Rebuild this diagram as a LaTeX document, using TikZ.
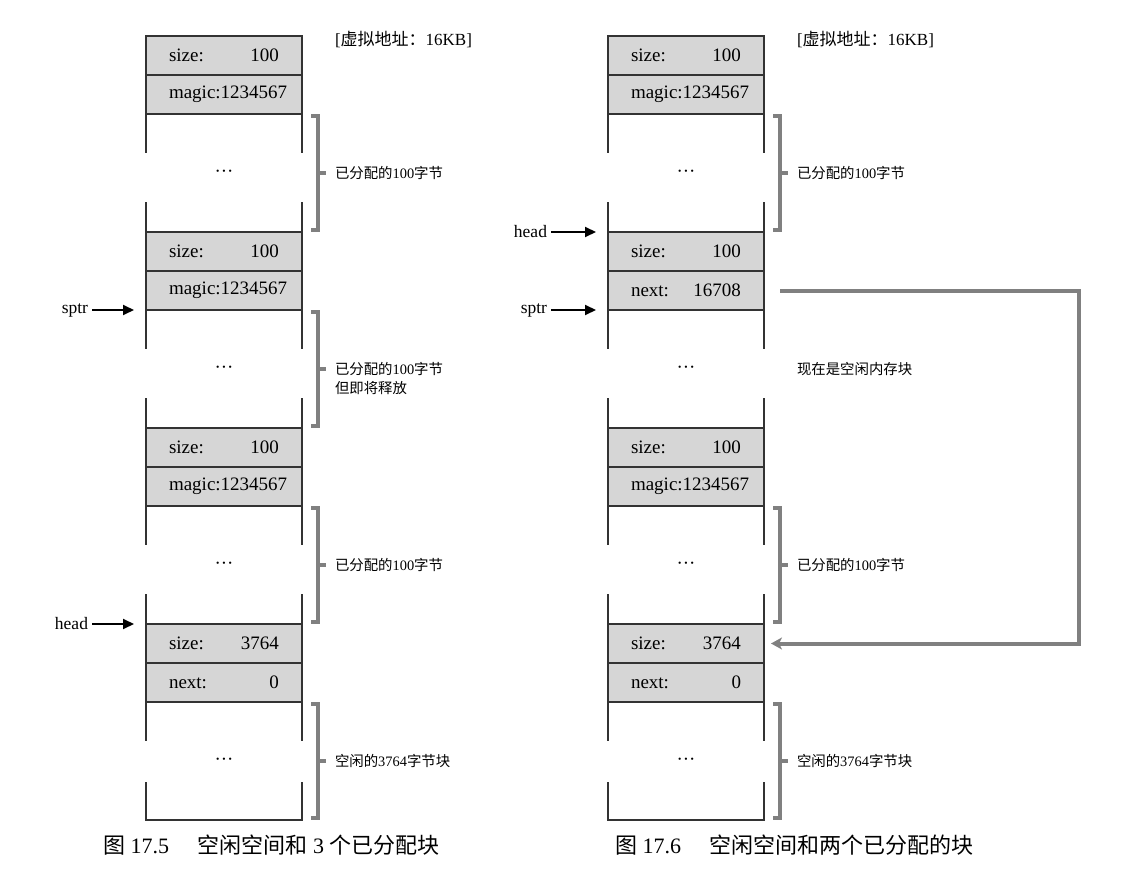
\documentclass[tikz,border=0pt]{standalone}
\usepackage{fontspec}
\setmainfont{Liberation Serif}
\newfontfamily\cjk{Noto Sans CJK SC}
\usetikzlibrary{arrows.meta,positioning}

\begin{document}
\begin{tikzpicture}[
  x=0.5pt, y=-0.5pt,
  outer sep=0pt,
  field/.style={draw=black!80, line width=0.6pt, fill=black!16, minimum width=78pt, minimum height=19.5pt,
    inner sep=0pt, text width=55pt, align=center, font=\fontsize{9.5}{11}\selectfont},
  hollow/.style={minimum width=78pt, minimum height=59pt, inner sep=0pt, font=\fontsize{9.5}{11}\selectfont},
  wall/.style={draw=black!80, line width=0.6pt},
  brk/.style={draw=black!50, line width=2.2pt},
  note/.style={inner sep=0pt, align=left, font=\fontsize{7.2}{9.5}\selectfont\cjk},
  hdr/.style={inner sep=0pt, font=\fontsize{8.5}{10}\selectfont},
  figcap/.style={inner sep=0pt, font=\fontsize{11}{13}\selectfont},
  ptr/.style={inner sep=0pt, font=\fontsize{8.75}{10}\selectfont},
  ptrarrow/.style={line width=1pt, shorten <=2pt, shorten >=6pt, -{Triangle[length=5.5pt,width=5pt]}},
  link/.style={draw=black!50, line width=2pt, -{Stealth[length=5.5pt,width=6pt,inset=1.5pt]}},
  node distance=0pt,
]
\useasboundingbox (0,0) rectangle (1142,883);
\newcommand\gapdots{\smash{\raisebox{-2pt}{···}}}

% left: free space and three allocated chunks
\node[field] (Ls1) at (224,55.5) {size:\hfill 100};
\node[field, below=of Ls1] (Lm1) {magic:1234567};
\node[hollow, below=of Lm1] (Lb1) {\gapdots};
\node[field, below=of Lb1] (Ls2) {size:\hfill 100};
\node[field, below=of Ls2] (Lm2) {magic:1234567};
\node[hollow, below=of Lm2] (Lb2) {\gapdots};
\node[field, below=of Lb2] (Ls3) {size:\hfill 100};
\node[field, below=of Ls3] (Lm3) {magic:1234567};
\node[hollow, below=of Lm3] (Lb3) {\gapdots};
\node[field, below=of Lb3] (Ls4) {size:\hfill 3764};
\node[field, below=of Ls4] (Ln4) {next:\hfill 0};
\node[hollow, below=of Ln4] (Lb4) {\gapdots};

% right: free space and two allocated chunks
\node[field] (Rs1) at (686,55.5) {size:\hfill 100};
\node[field, below=of Rs1] (Rm1) {magic:1234567};
\node[hollow, below=of Rm1] (Rb1) {\gapdots};
\node[field, below=of Rb1] (Rs2) {size:\hfill 100};
\node[field, below=of Rs2] (Rn2) {next:\hfill 16708};
\node[hollow, below=of Rn2] (Rb2) {\gapdots};
\node[field, below=of Rb2] (Rs3) {size:\hfill 100};
\node[field, below=of Rs3] (Rm3) {magic:1234567};
\node[hollow, below=of Rm3] (Rb3) {\gapdots};
\node[field, below=of Rb3] (Rs4) {size:\hfill 3764};
\node[field, below=of Rs4] (Rn4) {next:\hfill 0};
\node[hollow, below=of Rn4] (Rb4) {\gapdots};

% open sides of the chunk bodies
\foreach \b in {Lb1,Lb2,Lb3,Rb1,Rb2,Rb3}
  \draw[wall] (\b.north west) -- ++(0,39) (\b.south west) -- ++(0,-30)
              (\b.north east) -- ++(0,39) (\b.south east) -- ++(0,-30);
\foreach \b in {Lb4,Rb4}
  \draw[wall] (\b.north west) -- ++(0,39) (\b.north east) -- ++(0,39)
              ([yshift=19pt]\b.south west) -- (\b.south west) -- (\b.south east) -- ++(0,-38);

% brackets
\foreach \b in {Lb1,Lb2,Lb3,Lb4,Rb1,Rb3,Rb4}
  \draw[brk] ([xshift=4.5pt,yshift=-1pt]\b.north east) -- ++(7,0) |- ([xshift=4.5pt,yshift=1pt]\b.south east)
             ([xshift=8pt]\b.east) -- ++(8,0);

\node[hdr, right=16.5pt of Ls1.north east, yshift=-1.5pt] (Lhdr) {[{\cjk 虚拟地址：}16KB]};
\node[hdr, right=16.5pt of Rs1.north east, yshift=-1.5pt] (Rhdr) {[{\cjk 虚拟地址：}16KB]};

\node[note, right=16.5pt of Lb1] (La1) {已分配的{\rmfamily 100}字节};
\node[note, anchor=north west, yshift=3.5pt] (La2) at ([xshift=16.5pt]Lb2.east) {已分配的{\rmfamily 100}字节\\但即将释放};
\node[note, right=16.5pt of Lb3] (La3) {已分配的{\rmfamily 100}字节};
\node[note, right=16.5pt of Lb4] (La4) {空闲的{\rmfamily 3764}字节块};
\node[note, right=16.5pt of Rb1] (Ra1) {已分配的{\rmfamily 100}字节};
\node[note, right=16.5pt of Rb2] (Ra2) {现在是空闲内存块};
\node[note, right=16.5pt of Rb3] (Ra3) {已分配的{\rmfamily 100}字节};
\node[note, right=16.5pt of Rb4] (Ra4) {空闲的{\rmfamily 3764}字节块};

% pointers
\node[ptr, left=29pt of Lb2.north west] (Lsptr) {sptr};
\node[ptr, left=29pt of Ls4.north west] (Lhead) {head};
\node[ptr, left=30.5pt of Rs2.north west] (Rhead) {head};
\node[ptr, left=30.5pt of Rb2.north west] (Rsptr) {sptr};
\draw[ptrarrow] (Lsptr.east) -- (Lb2.north west);
\draw[ptrarrow] (Lhead.east) -- (Ls4.north west);
\draw[ptrarrow] (Rhead.east) -- (Rs2.north west);
\draw[ptrarrow] (Rsptr.east) -- (Rb2.north west);

% next pointer of the freed chunk
\draw[link] ([xshift=8pt]Rn2.east) -- ++(299,0) |- ([xshift=3.5pt]Rs4.east);

\node[figcap, anchor=west] (Lcap) at ([xshift=-21.5pt,yshift=-12.5pt]Lb4.south west)
  {{\cjk 图} 17.5\hspace{1.3em}{\cjk 空闲空间和} 3 {\cjk 个已分配块}};
\node[figcap, anchor=west] (Rcap) at ([xshift=3.5pt,yshift=-12.5pt]Rb4.south west)
  {{\cjk 图} 17.6\hspace{1.3em}{\cjk 空闲空间和两个已分配的块}};
\end{tikzpicture}
\end{document}
